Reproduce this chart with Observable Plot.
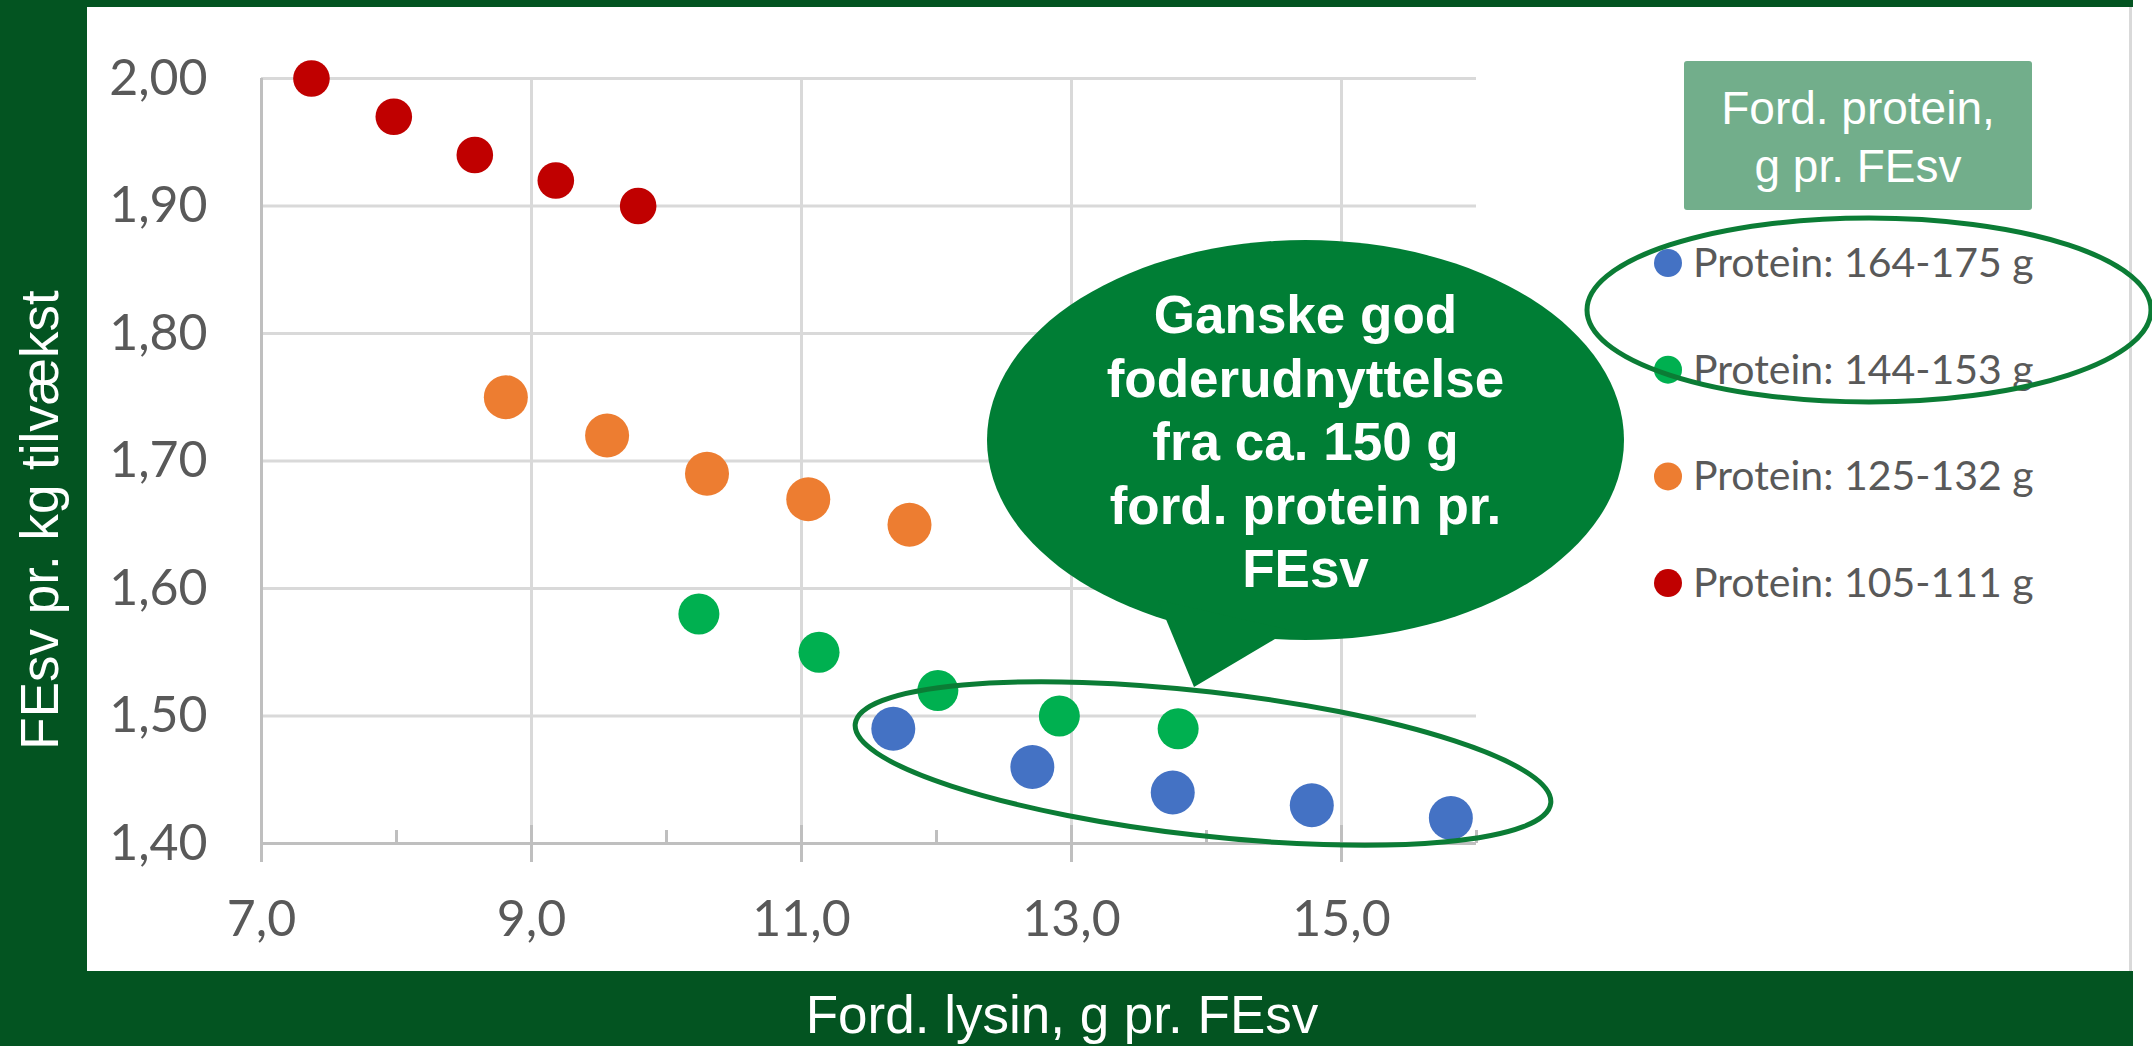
<!DOCTYPE html>
<html>
<head>
<meta charset="utf-8">
<script src="https://cdn.jsdelivr.net/npm/d3@7"></script>
<script src="https://cdn.jsdelivr.net/npm/@observablehq/plot@0.6"></script>
<style>
  html, body { margin: 0; padding: 0; background: #ffffff; }
  #wrap { position: relative; width: 2152px; height: 1046px; overflow: hidden; background: #ffffff; }
  .band { position: absolute; background: #035421; }
  #panel { position: absolute; left: 87px; top: 7px; width: 2045px; height: 964px; background: #ffffff;
           border-right: 3px solid #d9d9d9; box-sizing: border-box; }
  #chart { position: absolute; left: 0; top: 0; }
  #overlay { position: absolute; left: 0; top: 0; pointer-events: none; }
</style>
</head>
<body>
<div id="wrap">
  <div id="panel"></div>
  <div class="band" style="left:0;top:0;width:2133px;height:7px"></div>
  <div class="band" style="left:0;top:0;width:87px;height:1046px"></div>
  <div class="band" style="left:0;top:971px;width:2133px;height:75px"></div>
  <div id="chart"></div>
  <svg id="overlay" width="2152" height="1046"></svg>
</div>
<script>
// ---------- data ----------
const series = ["Protein: 164-175 g", "Protein: 144-153 g", "Protein: 125-132 g", "Protein: 105-111 g"];
const lysin164 = [11.68, 12.71, 13.75, 14.78, 15.81];
const fesv164  = [1.49, 1.46, 1.44, 1.43, 1.42];
const lysin144 = [10.24, 11.13, 12.01, 12.91, 13.79];
const fesv144  = [1.58, 1.55, 1.52, 1.50, 1.49];
const lysin125 = [8.81, 9.56, 10.30, 11.05, 11.80];
const fesv125  = [1.75, 1.72, 1.69, 1.67, 1.65];
const lysin105 = [7.37, 7.98, 8.58, 9.18, 9.79];
const fesv105  = [2.00, 1.97, 1.94, 1.92, 1.90];
const xTicks = [7, 9, 11, 13, 15];
const xMinorTicks = [8, 10, 12, 14, 16];
const yTicks = [1.4, 1.5, 1.6, 1.7, 1.8, 1.9, 2.0];
const xTitle = "Ford. lysin, g pr. FEsv";
const yTitle = "FEsv pr. kg tilvækst";
const legendTitle = ["Ford. protein,", "g pr. FEsv"];
const calloutLines = ["Ganske god", "foderudnyttelse", "fra ca. 150 g", "ford. protein pr.", "FEsv"];

// ---------- styles ----------
const colors = ["#4472C4", "#00B050", "#ED7D31", "#C00000"];
const radii = [22, 20.5, 22, 18.3];
const annotGreen = "#0B7C35";
const bubbleGreen = "#007E35";

const lysinAll = [lysin164, lysin144, lysin125, lysin105];
const fesvAll = [fesv164, fesv144, fesv125, fesv105];
const rows = series.flatMap((s, i) => lysinAll[i].map((x, j) => ({series: s, lysin: x, fesv: fesvAll[i][j]})));

const fmtX = d => d.toFixed(1).replace(".", ",");
const fmtY = d => d.toFixed(2).replace(".", ",");

const tickStroke = "#bfbfbf";
const plot = Plot.plot({
  width: 2152, height: 1046,
  marginTop: 78, marginRight: 676, marginBottom: 203, marginLeft: 261,
  style: {background: "transparent", fontFamily: "Lato, 'Open Sans', sans-serif", fontSize: "50px", color: "#595959", overflow: "visible"},
  x: {domain: [7, 16]},
  y: {domain: [1.4, 2.0]},
  color: {domain: series, range: colors},
  marks: [
    Plot.gridY(yTicks.slice(1), {stroke: "#d9d9d9", strokeOpacity: 1, strokeWidth: 3}),
    Plot.gridX(xTicks.slice(1), {stroke: "#d9d9d9", strokeOpacity: 1, strokeWidth: 3}),
    Plot.ruleY([1.4], {stroke: tickStroke, strokeWidth: 3}),
    Plot.ruleX([7], {stroke: tickStroke, strokeWidth: 3}),
    Plot.axisX(xTicks, {tickSize: 19, tickPadding: 38, tickFormat: fmtX, stroke: tickStroke, strokeWidth: 3, fill: "#595959", fontSize: 50, label: null}),
    Plot.axisX(xTicks, {tickSize: 18, dy: -18, tickFormat: () => "", stroke: tickStroke, strokeWidth: 3, label: null}),
    Plot.axisX(xMinorTicks, {tickSize: 13, dy: -13, tickFormat: () => "", stroke: tickStroke, strokeWidth: 3, label: null}),
    Plot.axisY(yTicks, {tickSize: 0, tickPadding: 54, tickFormat: fmtY, fill: "#595959", fontSize: 50, label: null}),
    ...series.map((s, i) => Plot.dot(rows.filter(d => d.series === s), {x: "lysin", y: "fesv", r: radii[i], fill: "series", stroke: "none"}))
  ]
});
document.getElementById("chart").appendChild(plot);

// ---------- overlay annotations ----------
const svg = d3.select("#overlay");
const titleFont = "'Liberation Sans', Arial, sans-serif";

// axis titles
svg.append("text").attr("x", 1062).attr("y", 1033).attr("text-anchor", "middle")
  .attr("fill", "#ffffff").attr("font-family", titleFont).attr("font-size", 53).text(xTitle);
svg.append("text").attr("transform", "translate(58,520) rotate(-90)").attr("text-anchor", "middle")
  .attr("fill", "#ffffff").attr("font-family", titleFont).attr("font-size", 53).text(yTitle);

// speech bubble
svg.append("ellipse").attr("cx", 1305.5).attr("cy", 440).attr("rx", 318.5).attr("ry", 200).attr("fill", bubbleGreen);
svg.append("polygon").attr("points", "1158,600 1194,687 1290,630").attr("fill", bubbleGreen);
const bt = svg.append("text").attr("text-anchor", "middle").attr("fill", "#ffffff")
  .attr("font-family", titleFont).attr("font-weight", "bold").attr("font-size", 53);
calloutLines.forEach((l, i) => bt.append("tspan").attr("x", 1305.5).attr("y", 333 + i * 63.5).text(l));

// ellipse around the best points
svg.append("ellipse").attr("cx", 0).attr("cy", 0).attr("rx", 350).attr("ry", 72)
  .attr("transform", "translate(1203,763.5) rotate(6.5)")
  .attr("fill", "none").attr("stroke", annotGreen).attr("stroke-width", 5);

// legend
svg.append("rect").attr("x", 1684).attr("y", 61).attr("width", 348).attr("height", 149).attr("rx", 3)
  .attr("fill", "#72AE8B");
const lt = svg.append("text").attr("text-anchor", "middle").attr("fill", "#ffffff")
  .attr("font-family", titleFont).attr("font-size", 46);
legendTitle.forEach((l, i) => lt.append("tspan").attr("x", 1858).attr("y", 124 + i * 58).text(l));

series.forEach((s, i) => {
  const cy = 263 + i * 106.7;
  svg.append("circle").attr("cx", 1668).attr("cy", cy).attr("r", 14).attr("fill", colors[i]);
  svg.append("text").attr("x", 1693).attr("y", cy + 14).attr("fill", "#595959")
    .attr("font-family", "Lato, 'Open Sans', sans-serif").attr("font-size", 41).text(s);
});
svg.append("ellipse").attr("cx", 1869).attr("cy", 310).attr("rx", 282).attr("ry", 92)
  .attr("fill", "none").attr("stroke", annotGreen).attr("stroke-width", 5);
</script>
</body>
</html>
